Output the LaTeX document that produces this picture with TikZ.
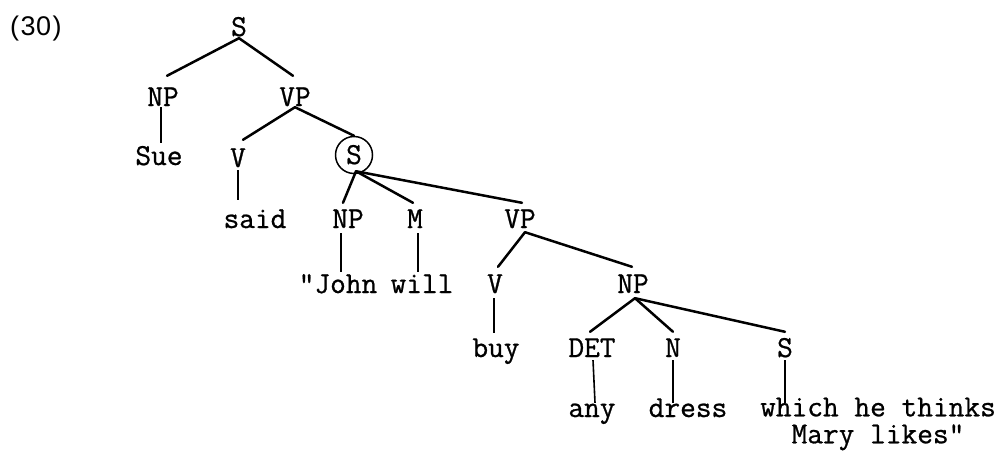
\documentclass[tikz,border=0pt]{standalone}
\usepackage{fontspec}
\newfontfamily\typew{Latin Modern Mono}[FakeBold=0.8]
\newfontfamily\numfont{Liberation Sans}
\begin{document}
\begin{tikzpicture}[x=1pt,y=-1pt,
  lab/.style={font=\typew\fontsize{30.5}{32}\selectfont, inner sep=0pt, text height=18pt, text depth=0pt, anchor=base},
  circ/.style={font=\typew\fontsize{30.5}{32}\selectfont, circle, draw, line width=1.5pt, inner sep=0pt, minimum size=37pt, text height=18pt, text depth=0pt},
  br/.style={line width=2.5pt, line cap=round},
  vl/.style={line width=1.6pt}]
\useasboundingbox (0,0) rectangle (1003,452);
% nodes
\node[font=\numfont\fontsize{27}{30}\selectfont, inner sep=0pt, anchor=base west] (num) at (10,36) {(\kern1.5pt3\kern0.5pt0\kern1.5pt)};
\node[lab] (s1) at (239,36) {S};
\node[lab] (np1) at (163,106) {NP};
\node[lab] (vp1) at (295,106) {VP};
\node[lab] (sue) at (159,165) {Sue};
\node[lab] (v1) at (238,167) {V};
\node[circ] (s2) at (354,155) {S};
\node[lab] (said) at (255,228) {said};
\node[lab] (np2) at (348,228) {NP};
\node[lab] (m) at (415,228) {M};
\node[lab] (vp2) at (520,228) {VP};
\node[lab] (john) at (338,293) {"John};
\node[lab] (will) at (422,293) {will};
\node[lab] (v2) at (495,293) {V};
\node[lab] (np3) at (633,293) {NP};
\node[lab] (buy) at (496,357) {buy};
\node[lab] (det) at (592,357) {DET};
\node[lab] (n) at (673,357) {N};
\node[lab] (s3) at (785,357) {S};
\node[lab] (any) at (592,417) {any};
\node[lab] (dress) at (688,417) {dress};
\node[font=\typew\fontsize{30.5}{27}\selectfont, inner sep=0pt, align=left, anchor=north west] (which) at (760,397.5)
  {which he thinks\\\hphantom{wh}Mary likes"};
% branches
\draw[br] ([yshift=-2pt]s1.south) -- ([xshift=4pt,yshift=12pt]np1.north);
\draw[br] ([yshift=-2pt]s1.south) -- ([xshift=-2pt,yshift=12pt]vp1.north);
\draw[vl] ([xshift=-2pt,yshift=-1pt]np1.south) -- ([xshift=2pt,yshift=4pt]sue.north);
\draw[br] ([yshift=-1pt]vp1.south) -- ([xshift=5pt,yshift=9pt]v1.north);
\draw[br] ([yshift=-1pt]vp1.south) -- (s2.north);
\draw[vl] ([yshift=-3pt]v1.south) -- ([xshift=-17pt,yshift=10pt]said.north);
\draw[br] ([xshift=2pt,yshift=3pt]s2.south) -- ([xshift=-5pt,yshift=7pt]np2.north);
\draw[br] ([xshift=2pt,yshift=3pt]s2.south) -- ([xshift=-2pt,yshift=7pt]m.north);
\draw[br] ([xshift=2pt,yshift=3pt]s2.south) -- ([xshift=2pt,yshift=7pt]vp2.north);
\draw[vl] ([xshift=-7pt,yshift=-5pt]np2.south) -- ([xshift=3pt,yshift=3pt]john.north);
\draw[vl] ([xshift=3pt,yshift=-5pt]m.south) -- ([xshift=-4pt,yshift=3pt]will.north);
\draw[br] ([xshift=5pt,yshift=-4pt]vp2.south) -- ([xshift=3pt,yshift=8pt]v2.north);
\draw[br] ([xshift=5pt,yshift=-4pt]vp2.south) -- ([xshift=-1pt,yshift=8pt]np3.north);
\draw[vl] ([xshift=-1pt,yshift=-5pt]v2.south) -- ([xshift=-2pt,yshift=6pt]buy.north);
\draw[br] ([xshift=2pt,yshift=-5pt]np3.south) -- ([xshift=-2pt,yshift=7pt]det.north);
\draw[br] ([xshift=2pt,yshift=-5pt]np3.south) -- ([yshift=7pt]n.north);
\draw[br] ([xshift=2pt,yshift=-5pt]np3.south) -- ([yshift=7pt]s3.north);
\draw[vl] ([xshift=1pt,yshift=-3pt]det.south) -- ([xshift=3pt,yshift=-4pt]any.north);
\draw[vl] ([yshift=-3pt]n.south) -- ([xshift=-15pt,yshift=-4pt]dress.north);
\draw[vl] ([yshift=-3pt]s3.south) -- ([xshift=25pt,yshift=-5.5pt]which.north west);
\end{tikzpicture}
\end{document}
